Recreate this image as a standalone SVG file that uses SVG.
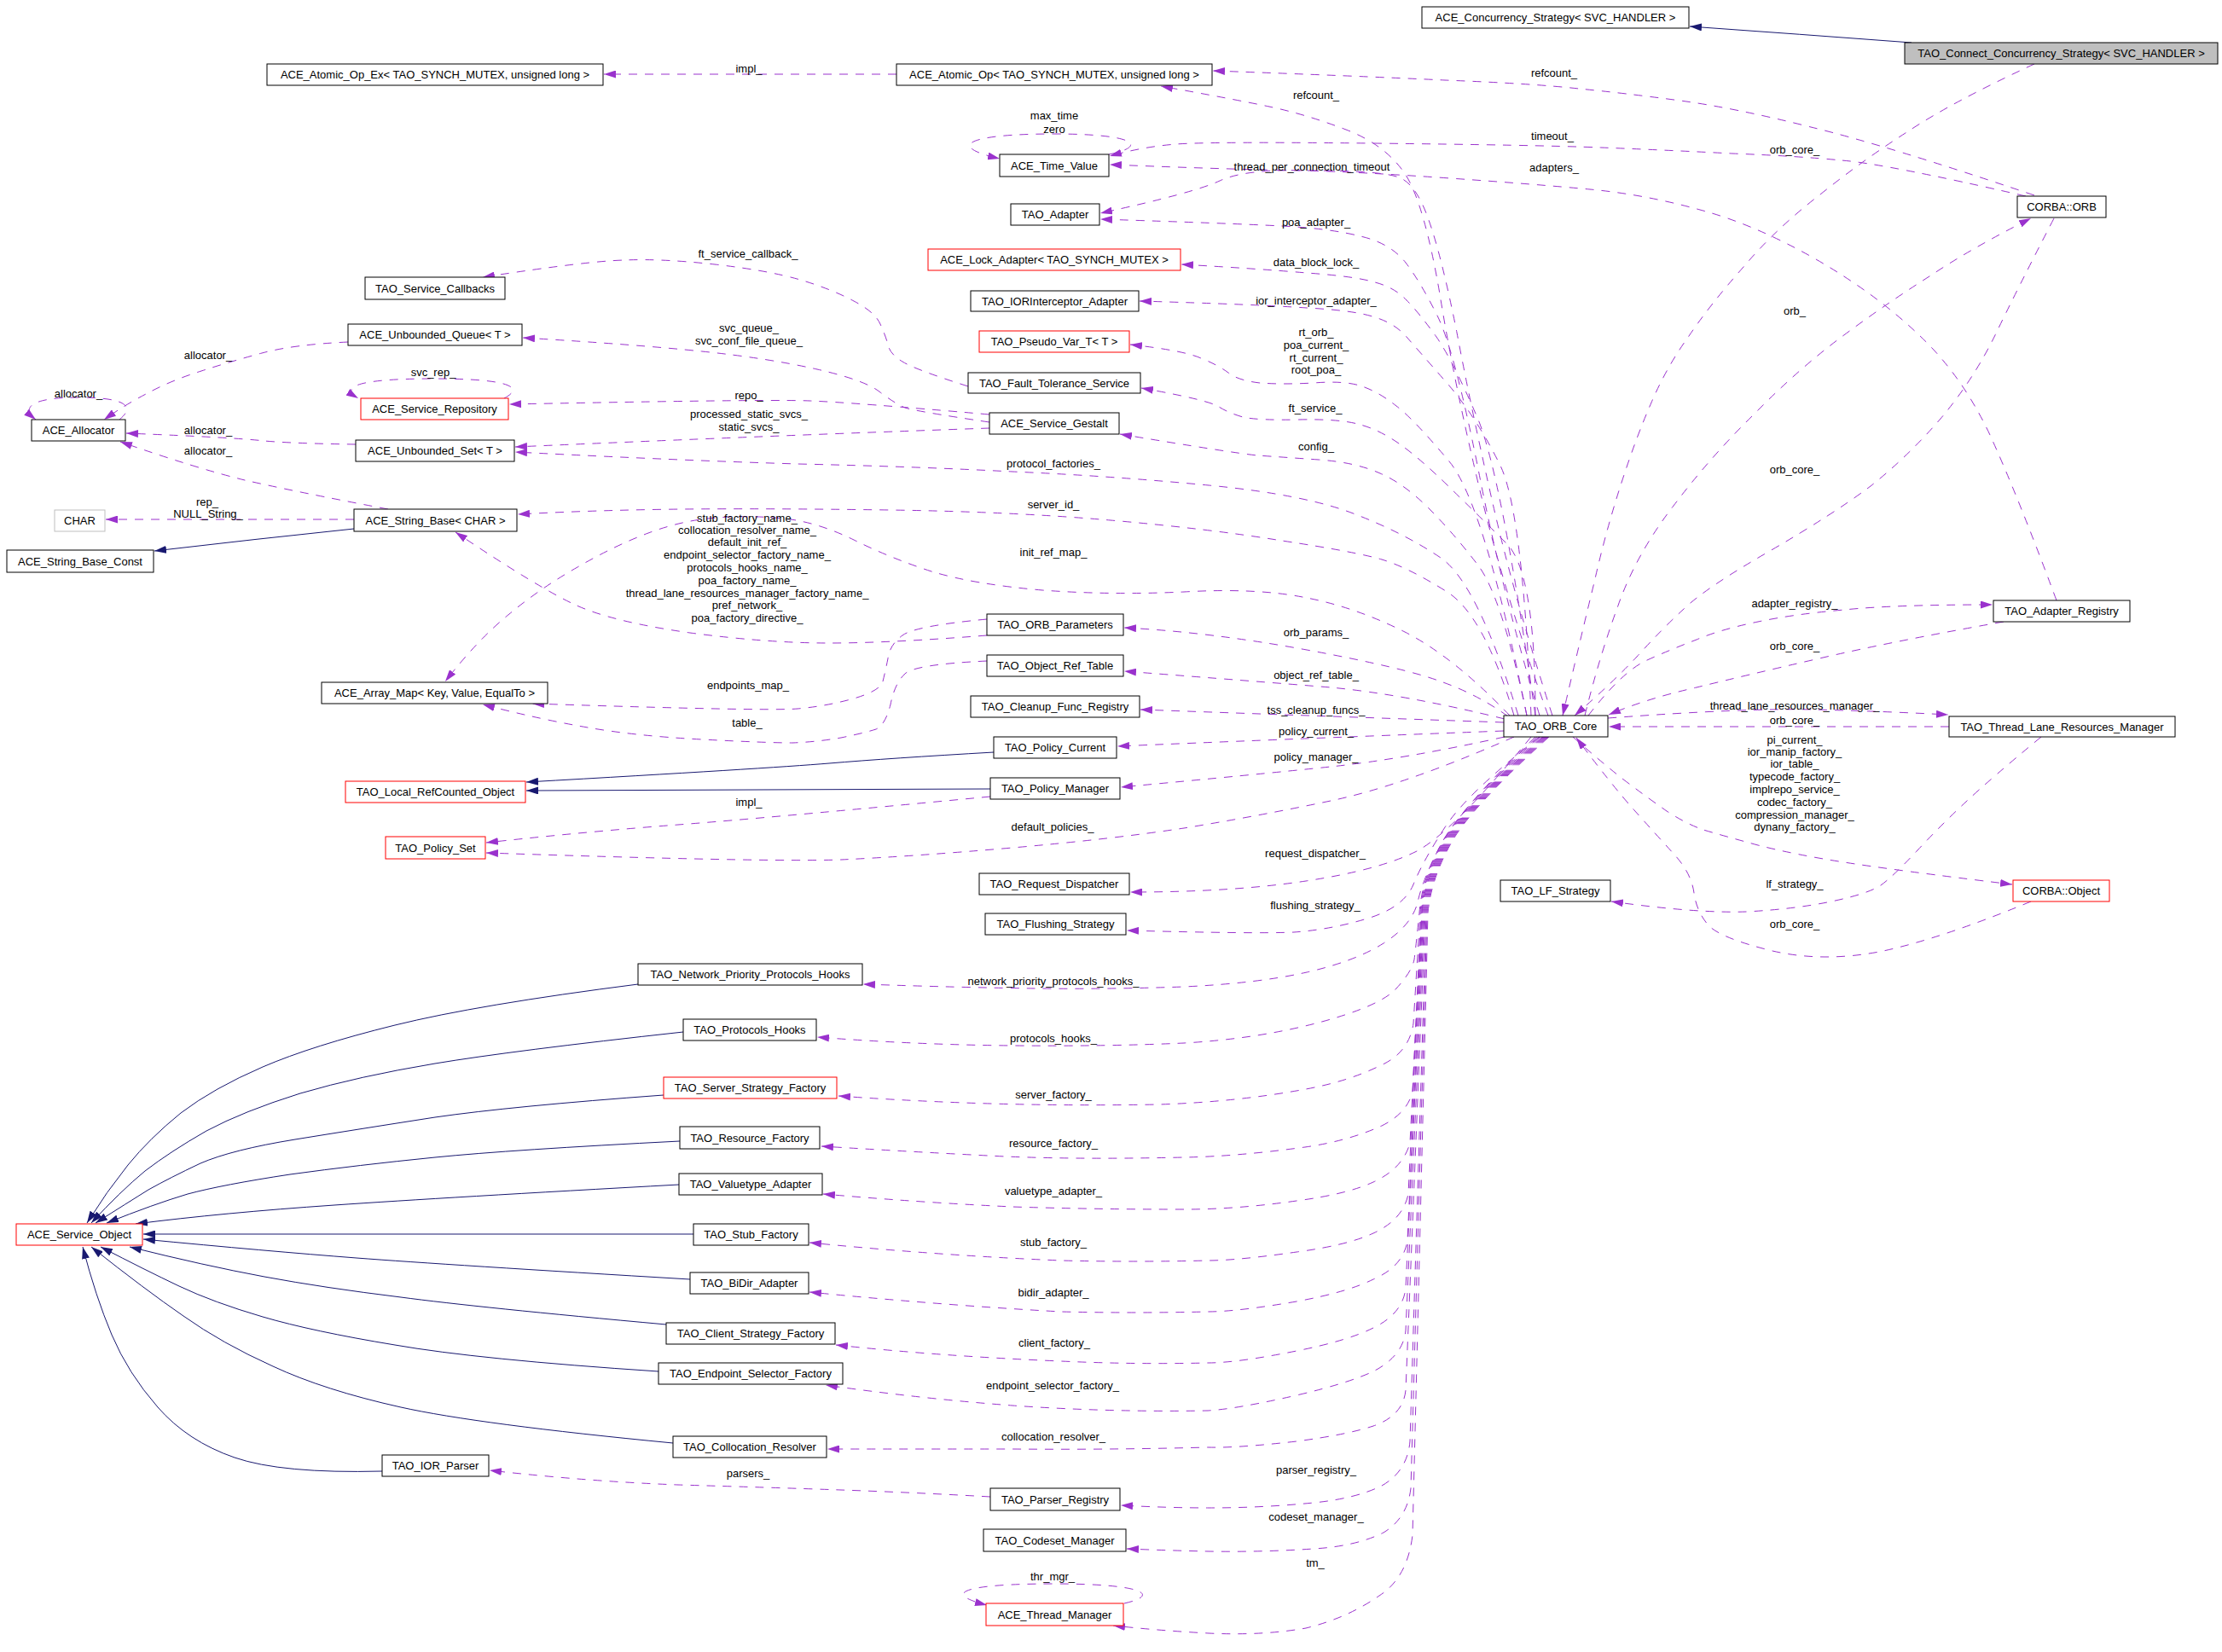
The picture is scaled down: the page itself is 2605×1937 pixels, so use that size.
<svg xmlns="http://www.w3.org/2000/svg" width="2605" height="1937" viewBox="0 0 2605 1937">
<style>
text{font-family:"Liberation Sans",Arial,sans-serif;font-size:13px;fill:#000}
.nd text{text-anchor:middle}
.nd rect{fill:#fff;stroke:#000;stroke-width:1}
.nd rect.r{stroke:#ff0000}
.nd rect.g{stroke:#bfbfbf}
.nd rect.s{fill:#bfbfbf}
.e{fill:none;stroke:#9a32cd;stroke-width:1;stroke-dasharray:10,9;marker-end:url(#pa)}
.i{fill:none;stroke:#191970;stroke-width:1;marker-end:url(#ia)}
.lb text{text-anchor:middle}
</style>
<defs>
<marker id="pa" markerUnits="userSpaceOnUse" markerWidth="14" markerHeight="9" refX="14" refY="4.5" orient="auto" viewBox="0 0 14 9"><path d="M0,0 L14,4.5 L0,9 z" fill="#9a32cd"/></marker>
<marker id="ia" markerUnits="userSpaceOnUse" markerWidth="14" markerHeight="9" refX="14" refY="4.5" orient="auto" viewBox="0 0 14 9"><path d="M0,0 L14,4.5 L0,9 z" fill="#191970"/></marker>
</defs>
<rect width="2605" height="1937" fill="#fff"/>
<g id="connectors">
<path class="i" d="M2241,50 Q2108,40 1981,31"/>
<path class="i" d="M415,620 Q300,632 181,646"/>
<path class="i" d="M1165,882 Q1043,889 972,895 Q900,901 617,917"/>
<path class="i" d="M1161,925 L617,927"/>
<path class="i" d="M748,1154 Q560,1178 463,1202 Q366,1226 308,1251 Q250,1276 212,1305 Q175,1335 150,1366 Q125,1397 102,1434"/>
<path class="i" d="M801,1210 Q600,1232 510,1247 Q420,1262 352,1282 Q285,1303 242,1326 Q200,1350 170,1373 Q141,1397 107,1434"/>
<path class="i" d="M778,1284 Q600,1297 510,1310 Q420,1324 346,1336 Q272,1348 235,1364 Q199,1381 174,1395 Q150,1410 112,1434"/>
<path class="i" d="M797,1338 Q600,1348 510,1357 Q420,1366 340,1377 Q261,1389 220,1400 Q180,1412 125,1434"/>
<path class="i" d="M796,1389 Q523,1404 392,1413 Q261,1422 159,1435"/>
<path class="i" d="M813,1447 L168,1447"/>
<path class="i" d="M809,1500 Q523,1483 418,1475 Q314,1467 168,1453"/>
<path class="i" d="M781,1553 Q560,1533 470,1521 Q380,1510 310,1497 Q240,1484 152,1462"/>
<path class="i" d="M772,1608 Q560,1594 463,1577 Q366,1561 308,1544 Q250,1527 210,1508 Q170,1489 118,1462"/>
<path class="i" d="M789,1692 Q560,1670 470,1650 Q380,1630 320,1602 Q260,1575 215,1543 Q170,1512 107,1462"/>
<path class="i" d="M448,1725 Q330,1728 275,1709 Q220,1690 185,1650 Q150,1610 131,1565 Q112,1520 97,1462"/>

<path class="e" d="M1051,87 L708,87"/>
<path class="e" d="M2385,229 Q2210,170 2123,149 Q2036,127 1970,118 Q1903,109 1851,104 Q1798,98 1694,94 Q1589,89 1422,83"/>
<path class="e" d="M1815,839 Q1765,700 1735,575 Q1705,450 1688,345 Q1670,240 1648,205 Q1625,170 1578,152 Q1531,134 1488,125 Q1445,116 1361,101"/>
<path class="e" d="M1300,181 C1345,172 1335,157 1236,157 C1130,157 1110,172 1172,186"/>
<path class="e" d="M2375,230 Q2210,192 2159,188 Q2108,183 2031,180 Q1954,176 1877,173 Q1800,170 1609,168 Q1417,166 1379,169 Q1340,172 1301,183"/>
<path class="e" d="M1820,839 Q1775,700 1750,590 Q1725,480 1708,390 Q1690,300 1675,258 Q1660,215 1640,208 Q1620,200 1535,200 Q1450,199 1301,193"/>
<path class="e" d="M2411,704 Q2365,580 2333,510 Q2300,440 2250,393 Q2200,345 2129,304 Q2057,263 1993,246 Q1928,228 1864,222 Q1800,216 1700,209 Q1600,202 1530,200 Q1460,198 1430,212 Q1400,226 1290,250"/>
<path class="e" d="M1805,839 Q1760,690 1733,550 Q1705,410 1685,370 Q1665,330 1648,308 Q1630,285 1595,277 Q1560,268 1503,265 Q1445,262 1290,257"/>
<path class="e" d="M1800,839 Q1761,560 1733,492 Q1704,424 1684,395 Q1663,366 1649,352 Q1635,337 1612,331 Q1589,324 1532,320 Q1474,315 1385,310"/>
<path class="e" d="M1795,839 Q1785,600 1759,546 Q1732,491 1698,451 Q1663,411 1649,395 Q1635,379 1612,372 Q1589,364 1532,361 Q1474,357 1336,353"/>
<path class="e" d="M1790,839 Q1740,590 1699,541 Q1657,491 1637,476 Q1617,460 1597,453 Q1577,446 1540,449 Q1503,451 1477,449 Q1451,446 1440,437 Q1428,428 1408,420 Q1388,411 1325,404"/>
<path class="e" d="M1800,839 Q1800,670 1766,637 Q1732,603 1698,570 Q1663,536 1640,520 Q1617,504 1595,498 Q1572,491 1523,492 Q1474,493 1457,489 Q1440,484 1429,477 Q1417,469 1338,455"/>
<path class="e" d="M1790,839 Q1761,700 1733,663 Q1704,625 1675,596 Q1646,567 1618,555 Q1589,542 1546,539 Q1503,536 1474,534 Q1445,531 1313,509"/>
<path class="e" d="M1780,839 Q1732,683 1689,654 Q1646,625 1589,603 Q1531,580 1417,569 Q1302,558 1187,553 Q1072,547 936,544 Q800,540 604,530"/>
<path class="e" d="M1775,839 Q1740,720 1695,693 Q1650,665 1620,656 Q1589,647 1503,634 Q1417,620 1302,610 Q1187,600 1044,598 Q900,596 800,597 Q700,598 607,603"/>
<path class="e" d="M1770,839 Q1704,770 1647,741 Q1589,712 1532,701 Q1474,689 1388,694 Q1302,698 1222,692 Q1141,685 1092,670 Q1043,654 1001,633 Q958,612 919,608 Q880,604 840,607 Q800,610 760,625 Q720,640 677,665 Q633,690 597,720 Q560,750 522,799"/>
<path class="e" d="M1157,745 Q1043,754 972,754 Q900,754 809,742 Q717,729 674,709 Q631,689 534,624"/>
<path class="e" d="M1157,726 Q1072,734 1058,745 Q1043,756 1041,772 Q1038,787 1035,799 Q1032,810 1001,819 Q969,828 935,831 Q900,834 624,825"/>
<path class="e" d="M1157,775 Q1072,779 1061,790 Q1049,801 1044,826 Q1038,850 1027,855 Q1015,859 986,865 Q957,870 929,871 Q900,871 823,867 Q746,863 689,853 Q631,843 566,826"/>
<path class="e" d="M1160,495 Q1072,482 1061,478 Q1049,473 1032,460 Q1015,446 958,433 Q900,420 823,412 Q746,404 613,396"/>
<path class="e" d="M1160,486 Q1000,472 950,470 Q900,468 597,474"/>
<path class="e" d="M1160,502 Q900,511 604,524"/>
<path class="e" d="M1135,453 Q1072,433 1058,424 Q1043,415 1041,404 Q1038,393 1032,380 Q1026,366 1001,353 Q975,339 938,328 Q900,317 838,310 Q775,303 732,305 Q689,306 566,325"/>
<path class="e" d="M408,401 Q344,404 307,414 Q270,424 236,435 Q201,446 175,460 Q149,473 122,492"/>
<path class="e" d="M140,492 C162,474 140,466 92,466 C42,466 22,476 42,492"/>
<path class="e" d="M417,521 Q344,520 310,517 Q276,513 148,508"/>
<path class="e" d="M455,597 Q344,576 287,563 Q230,549 141,518"/>
<path class="e" d="M415,609 L124,609"/>
<path class="e" d="M591,467 C614,455 602,444 508,444 C412,444 400,455 420,467"/>
<path class="e" d="M1161,1755 Q1072,1750 986,1747 Q900,1744 795,1741 Q689,1737 574,1724"/>
<path class="e" d="M1318,1880 C1362,1870 1340,1857 1236,1857 C1130,1857 1102,1868 1157,1882"/>

<path class="e" d="M1768,840 Q1732,814 1689,799 Q1646,783 1532,762 Q1417,741 1318,736"/>
<path class="e" d="M1764,843 Q1646,814 1560,806 Q1474,799 1318,787"/>
<path class="e" d="M1763,847 Q1474,837 1337,832"/>
<path class="e" d="M1763,857 Q1474,868 1310,875"/>
<path class="e" d="M1764,864 Q1646,890 1560,899 Q1474,908 1314,923"/>
<path class="e" d="M1161,934 Q900,959 795,967 Q689,975 570,988"/>
<path class="e" d="M1775,864 Q1646,921 1560,939 Q1474,957 1388,971 Q1302,984 1187,994 Q1072,1004 986,1008 Q900,1011 570,1000"/>
<path class="e" d="M1795,864 Q1704,975 1661,998 Q1617,1020 1531,1033 Q1445,1046 1325,1046"/>
<path class="e" d="M1805,864 Q1720,930 1694,970 Q1668,1010 1657,1037 Q1646,1064 1603,1077 Q1560,1090 1517,1093 Q1474,1095 1321,1091"/>
<path class="e" d="M1800,864 Q1712,948 1690,989 Q1668,1030 1662,1058 Q1655,1085 1622,1106 Q1589,1127 1532,1140 Q1474,1153 1388,1157 Q1302,1160 1216,1159 Q1130,1158 1012,1154"/>
<path class="e" d="M1802,864 Q1712,948 1690,989 Q1667,1030 1664,1070 Q1660,1110 1658,1125 Q1655,1140 1636,1160 Q1617,1180 1546,1199 Q1474,1218 1388,1223 Q1302,1227 1187,1226 Q1072,1225 958,1216"/>
<path class="e" d="M1804,864 Q1713,948 1691,989 Q1668,1030 1665,1070 L1657,1200 Q1652,1235 1617,1250 Q1580,1268 1531,1277 Q1450,1292 1359,1295 Q1240,1297 1130,1293 Q1050,1290 983,1285"/>
<path class="e" d="M1806,864 Q1714,948 1692,989 Q1669,1030 1666,1070 L1656,1280 Q1650,1305 1620,1320 Q1580,1338 1530,1345 Q1450,1356 1388,1357 Q1250,1360 1158,1355 Q1060,1350 963,1344"/>
<path class="e" d="M1808,864 Q1715,948 1693,989 Q1670,1030 1667,1070 L1653,1340 Q1645,1370 1610,1386 Q1580,1400 1520,1408 Q1450,1418 1388,1418 Q1280,1418 1187,1415 Q1080,1410 965,1400"/>
<path class="e" d="M1809,864 Q1716,948 1694,989 Q1671,1030 1667,1070 L1651,1400 Q1645,1430 1610,1446 Q1580,1460 1520,1468 Q1450,1478 1416,1478 Q1330,1480 1244,1478 Q1100,1472 949,1457"/>
<path class="e" d="M1810,864 Q1717,948 1695,989 Q1672,1030 1668,1070 L1650,1455 Q1645,1485 1610,1500 Q1580,1515 1520,1526 Q1450,1538 1416,1538 Q1330,1540 1244,1538 Q1100,1530 949,1515"/>
<path class="e" d="M1811,864 Q1718,948 1696,989 Q1673,1030 1669,1070 L1648,1510 Q1645,1540 1610,1557 Q1580,1572 1520,1584 Q1450,1598 1416,1598 Q1330,1600 1244,1596 Q1100,1590 980,1577"/>
<path class="e" d="M1812,864 Q1719,948 1697,989 Q1674,1030 1670,1070 L1648,1560 Q1645,1590 1610,1608 Q1580,1622 1520,1636 Q1450,1652 1416,1654 Q1300,1656 1187,1648 Q1080,1640 968,1624"/>
<path class="e" d="M1813,864 Q1720,948 1698,989 Q1675,1030 1671,1070 L1648,1630 Q1645,1660 1610,1672 Q1580,1682 1520,1690 Q1450,1698 1416,1697 Q1300,1700 1187,1699 Q1080,1699 970,1699"/>
<path class="e" d="M1814,864 Q1721,948 1699,989 Q1676,1030 1672,1070 L1653,1690 Q1650,1725 1620,1742 Q1590,1757 1540,1762 Q1480,1768 1417,1768 Q1370,1768 1314,1765"/>
<path class="e" d="M1815,864 Q1722,948 1700,989 Q1677,1030 1673,1070 L1654,1745 Q1650,1780 1622,1797 Q1590,1813 1540,1816 Q1480,1820 1417,1819 Q1370,1818 1321,1816"/>
<path class="e" d="M1816,864 Q1723,948 1701,989 Q1678,1030 1674,1070 L1656,1800 Q1650,1850 1617,1871 Q1580,1897 1531,1909 Q1480,1918 1417,1915 Q1360,1912 1305,1906"/>

<path class="e" d="M2385,75 Q2288,120 2237,154 Q2185,187 2134,228 Q2082,268 2044,313 Q2005,357 1980,394 Q1954,430 1936,472 Q1918,513 1900,569 Q1882,625 1869,683 Q1855,740 1832,839"/>
<path class="e" d="M1858,839 Q1875,770 1897,710 Q1918,650 1962,593 Q2005,536 2057,485 Q2108,433 2159,395 Q2210,357 2262,324 Q2313,290 2381,256"/>
<path class="e" d="M2408,256 Q2365,339 2339,393 Q2313,446 2275,491 Q2236,536 2193,570 Q2149,603 2075,646 Q2000,689 1974,714 Q1948,738 1919,770 Q1890,801 1846,839"/>
<path class="e" d="M1862,839 Q1902,787 1931,774 Q1960,761 1989,750 Q2017,738 2061,729 Q2104,720 2162,715 Q2219,709 2336,709"/>
<path class="e" d="M2349,729 Q2219,752 2133,772 Q2046,792 1989,806 Q1931,819 1886,838"/>
<path class="e" d="M1885,842 Q2046,830 2127,832 Q2208,834 2284,838"/>
<path class="e" d="M2285,852 L1886,852"/>
<path class="e" d="M1844,864 Q1873,890 1902,913 Q1931,935 1954,951 Q1977,966 1997,973 Q2017,979 2061,991 Q2104,1002 2162,1011 Q2219,1020 2359,1037"/>
<path class="e" d="M2393,864 Q2335,912 2306,939 Q2277,966 2248,997 Q2219,1028 2205,1038 Q2190,1048 2147,1057 Q2104,1066 2047,1069 Q1989,1071 1889,1057"/>
<path class="e" d="M2381,1057 Q2277,1100 2208,1115 Q2139,1129 2078,1115 Q2017,1100 2003,1085 Q1989,1069 1986,1047 Q1983,1024 1963,1002 Q1942,979 1916,950 Q1890,921 1848,865"/>

<g class="lb">
<text x="878" y="84.5">impl_</text>
<text x="1822" y="89.5">refcount_</text>
<text x="1543" y="115.5">refcount_</text>
<text x="1236" y="139.5">max_time</text>
<text x="1236" y="155.5">zero</text>
<text x="1820" y="163.5">timeout_</text>
<text x="2104" y="179.5">orb_core_</text>
<text x="1538" y="199.5">thread_per_connection_timeout</text>
<text x="1822" y="200.5">adapters_</text>
<text x="1543" y="264.5">poa_adapter_</text>
<text x="877" y="301.5">ft_service_callback_</text>
<text x="1543" y="311.5">data_block_lock_</text>
<text x="1543" y="356.5">ior_interceptor_adapter_</text>
<text x="2104" y="368.5">orb_</text>
<text x="878" y="388.5">svc_queue_</text>
<text x="878" y="403.5">svc_conf_file_queue_</text>
<text x="1543" y="393.5">rt_orb_</text>
<text x="1543" y="408.5">poa_current_</text>
<text x="1543" y="423.5">rt_current_</text>
<text x="1543" y="437.5">root_poa_</text>
<text x="244" y="421">allocator_</text>
<text x="508" y="440.5">svc_rep_</text>
<text x="92" y="465.5">allocator_</text>
<text x="878" y="467.5">repo_</text>
<text x="1542" y="482.5">ft_service_</text>
<text x="878" y="489.5">processed_static_svcs_</text>
<text x="878" y="504.5">static_svcs_</text>
<text x="244" y="508.5">allocator_</text>
<text x="1543" y="527.5">config_</text>
<text x="244" y="533">allocator_</text>
<text x="1235" y="547.5">protocol_factories_</text>
<text x="2104" y="554.5">orb_core_</text>
<text x="243" y="592.5">rep_</text>
<text x="244" y="606.5">NULL_String_</text>
<text x="1235" y="596">server_id_</text>
<text x="876" y="611.5">stub_factory_name_</text>
<text x="876" y="625.5">collocation_resolver_name_</text>
<text x="876" y="639.5">default_init_ref_</text>
<text x="876" y="654.5">endpoint_selector_factory_name_</text>
<text x="876" y="669.5">protocols_hooks_name_</text>
<text x="876" y="684.5">poa_factory_name_</text>
<text x="876" y="699.5">thread_lane_resources_manager_factory_name_</text>
<text x="876" y="713.5">pref_network_</text>
<text x="876" y="728.5">poa_factory_directive_</text>
<text x="1235" y="651.5">init_ref_map_</text>
<text x="2104" y="711.5">adapter_registry_</text>
<text x="1543" y="745.5">orb_params_</text>
<text x="2104" y="761.5">orb_core_</text>
<text x="1543" y="796">object_ref_table_</text>
<text x="877" y="807.5">endpoints_map_</text>
<text x="2104" y="831.5">thread_lane_resources_manager_</text>
<text x="1543" y="836.5">tss_cleanup_funcs_</text>
<text x="2104" y="849">orb_core_</text>
<text x="876" y="851.5">table_</text>
<text x="1543" y="861.5">policy_current_</text>
<text x="2104" y="871.5">pi_current_</text>
<text x="2104" y="885.5">ior_manip_factory_</text>
<text x="2104" y="900">ior_table_</text>
<text x="2104" y="915">typecode_factory_</text>
<text x="2104" y="929.5">implrepo_service_</text>
<text x="2104" y="944.5">codec_factory_</text>
<text x="2104" y="959.5">compression_manager_</text>
<text x="2104" y="973.5">dynany_factory_</text>
<text x="1543" y="892">policy_manager_</text>
<text x="878" y="944.5">impl_</text>
<text x="1234" y="973.5">default_policies_</text>
<text x="1542" y="1005">request_dispatcher_</text>
<text x="2104" y="1040.5">lf_strategy_</text>
<text x="1542" y="1065.5">flushing_strategy_</text>
<text x="2104" y="1087.5">orb_core_</text>
<text x="1235" y="1155">network_priority_protocols_hooks_</text>
<text x="1235" y="1221.5">protocols_hooks_</text>
<text x="1235" y="1288">server_factory_</text>
<text x="1235" y="1345">resource_factory_</text>
<text x="1235" y="1400.5">valuetype_adapter_</text>
<text x="1235" y="1461">stub_factory_</text>
<text x="1235" y="1520">bidir_adapter_</text>
<text x="1236" y="1579">client_factory_</text>
<text x="1234" y="1629">endpoint_selector_factory_</text>
<text x="1235" y="1688.5">collocation_resolver_</text>
<text x="877" y="1731.5">parsers_</text>
<text x="1543" y="1727.5">parser_registry_</text>
<text x="1543" y="1783">codeset_manager_</text>
<text x="1542" y="1836.5">tm_</text>
<text x="1234" y="1852.5">thr_mgr_</text>
</g>
</g>

<g id="n_ACE_Concurrency_Strategy" class="nd"><rect x="1667" y="8" width="313" height="25"/><text x="1823.5" y="25">ACE_Concurrency_Strategy&lt; SVC_HANDLER &gt;</text></g>
<g id="n_TAO_Connect_Concurrency_Strategy" class="nd"><rect class="s" x="2233" y="50" width="367" height="25"/><text x="2416.5" y="67">TAO_Connect_Concurrency_Strategy&lt; SVC_HANDLER &gt;</text></g>
<g id="n_ACE_Atomic_Op_Ex" class="nd"><rect x="313" y="75" width="394" height="25"/><text x="510" y="92">ACE_Atomic_Op_Ex&lt; TAO_SYNCH_MUTEX, unsigned long &gt;</text></g>
<g id="n_ACE_Atomic_Op" class="nd"><rect x="1051" y="75" width="370" height="25"/><text x="1236" y="92">ACE_Atomic_Op&lt; TAO_SYNCH_MUTEX, unsigned long &gt;</text></g>
<g id="n_ACE_Time_Value" class="nd"><rect x="1172" y="181" width="128" height="26"/><text x="1236" y="198.5">ACE_Time_Value</text></g>
<g id="n_TAO_Adapter" class="nd"><rect x="1185" y="239" width="104" height="25"/><text x="1237" y="256">TAO_Adapter</text></g>
<g id="n_CORBA_ORB" class="nd"><rect x="2365" y="230" width="104" height="25"/><text x="2417" y="247">CORBA::ORB</text></g>
<g id="n_ACE_Lock_Adapter" class="nd"><rect class="r" x="1088" y="292" width="296" height="25"/><text x="1236" y="309">ACE_Lock_Adapter&lt; TAO_SYNCH_MUTEX &gt;</text></g>
<g id="n_TAO_Service_Callbacks" class="nd"><rect x="428" y="325" width="164" height="26"/><text x="510" y="342.5">TAO_Service_Callbacks</text></g>
<g id="n_TAO_IORInterceptor_Adapter" class="nd"><rect x="1138" y="341" width="197" height="24"/><text x="1236.5" y="357.5">TAO_IORInterceptor_Adapter</text></g>
<g id="n_ACE_Unbounded_Queue" class="nd"><rect x="408" y="380" width="204" height="25"/><text x="510" y="397">ACE_Unbounded_Queue&lt; T &gt;</text></g>
<g id="n_TAO_Pseudo_Var_T" class="nd"><rect class="r" x="1148" y="388" width="176" height="25"/><text x="1236" y="405">TAO_Pseudo_Var_T&lt; T &gt;</text></g>
<g id="n_TAO_Fault_Tolerance_Service" class="nd"><rect x="1135" y="437" width="202" height="24"/><text x="1236" y="453.5">TAO_Fault_Tolerance_Service</text></g>
<g id="n_ACE_Service_Repository" class="nd"><rect class="r" x="423" y="467" width="173" height="25"/><text x="509.5" y="484">ACE_Service_Repository</text></g>
<g id="n_ACE_Service_Gestalt" class="nd"><rect x="1160" y="484" width="152" height="25"/><text x="1236" y="501">ACE_Service_Gestalt</text></g>
<g id="n_ACE_Allocator" class="nd"><rect x="37" y="492" width="110" height="25"/><text x="92" y="509">ACE_Allocator</text></g>
<g id="n_ACE_Unbounded_Set" class="nd"><rect x="417" y="516" width="186" height="25"/><text x="510" y="533">ACE_Unbounded_Set&lt; T &gt;</text></g>
<g id="n_CHAR" class="nd"><rect class="g" x="64" y="598" width="59" height="25"/><text x="93.5" y="615">CHAR</text></g>
<g id="n_ACE_String_Base" class="nd"><rect x="415" y="597" width="191" height="26"/><text x="510.5" y="614.5">ACE_String_Base&lt; CHAR &gt;</text></g>
<g id="n_ACE_String_Base_Const" class="nd"><rect x="8" y="645" width="172" height="26"/><text x="94" y="662.5">ACE_String_Base_Const</text></g>
<g id="n_TAO_Adapter_Registry" class="nd"><rect x="2337" y="704" width="160" height="25"/><text x="2417" y="721">TAO_Adapter_Registry</text></g>
<g id="n_TAO_ORB_Parameters" class="nd"><rect x="1157" y="720" width="160" height="25"/><text x="1237" y="737">TAO_ORB_Parameters</text></g>
<g id="n_TAO_Object_Ref_Table" class="nd"><rect x="1157" y="768" width="160" height="25"/><text x="1237" y="785">TAO_Object_Ref_Table</text></g>
<g id="n_ACE_Array_Map" class="nd"><rect x="377" y="800" width="265" height="25"/><text x="509.5" y="817">ACE_Array_Map&lt; Key, Value, EqualTo &gt;</text></g>
<g id="n_TAO_Cleanup_Func_Registry" class="nd"><rect x="1138" y="816" width="198" height="25"/><text x="1237" y="833">TAO_Cleanup_Func_Registry</text></g>
<g id="n_TAO_ORB_Core" class="nd"><rect x="1763" y="839" width="122" height="25"/><text x="1824" y="856">TAO_ORB_Core</text></g>
<g id="n_TAO_Thread_Lane_Resources_Manager" class="nd"><rect x="2285" y="840" width="265" height="24"/><text x="2417.5" y="856.5">TAO_Thread_Lane_Resources_Manager</text></g>
<g id="n_TAO_Policy_Current" class="nd"><rect x="1165" y="864" width="144" height="25"/><text x="1237" y="881">TAO_Policy_Current</text></g>
<g id="n_TAO_Local_RefCounted_Object" class="nd"><rect class="r" x="405" y="916" width="211" height="25"/><text x="510.5" y="933">TAO_Local_RefCounted_Object</text></g>
<g id="n_TAO_Policy_Manager" class="nd"><rect x="1161" y="912" width="152" height="25"/><text x="1237" y="929">TAO_Policy_Manager</text></g>
<g id="n_TAO_Policy_Set" class="nd"><rect class="r" x="452" y="981" width="117" height="26"/><text x="510.5" y="998.5">TAO_Policy_Set</text></g>
<g id="n_TAO_Request_Dispatcher" class="nd"><rect x="1148" y="1024" width="176" height="25"/><text x="1236" y="1041">TAO_Request_Dispatcher</text></g>
<g id="n_TAO_LF_Strategy" class="nd"><rect x="1759" y="1032" width="129" height="25"/><text x="1823.5" y="1049">TAO_LF_Strategy</text></g>
<g id="n_CORBA_Object" class="nd"><rect class="r" x="2360" y="1032" width="113" height="25"/><text x="2416.5" y="1049">CORBA::Object</text></g>
<g id="n_TAO_Flushing_Strategy" class="nd"><rect x="1155" y="1071" width="165" height="25"/><text x="1237.5" y="1088">TAO_Flushing_Strategy</text></g>
<g id="n_TAO_Network_Priority_Protocols_Hooks" class="nd"><rect x="748" y="1130" width="263" height="25"/><text x="879.5" y="1147">TAO_Network_Priority_Protocols_Hooks</text></g>
<g id="n_TAO_Protocols_Hooks" class="nd"><rect x="801" y="1195" width="156" height="25"/><text x="879" y="1212">TAO_Protocols_Hooks</text></g>
<g id="n_TAO_Server_Strategy_Factory" class="nd"><rect class="r" x="778" y="1263" width="203" height="25"/><text x="879.5" y="1280">TAO_Server_Strategy_Factory</text></g>
<g id="n_TAO_Resource_Factory" class="nd"><rect x="797" y="1321" width="164" height="26"/><text x="879" y="1338.5">TAO_Resource_Factory</text></g>
<g id="n_TAO_Valuetype_Adapter" class="nd"><rect x="796" y="1376" width="168" height="25"/><text x="880" y="1393">TAO_Valuetype_Adapter</text></g>
<g id="n_ACE_Service_Object" class="nd"><rect class="r" x="19" y="1435" width="148" height="25"/><text x="93" y="1452">ACE_Service_Object</text></g>
<g id="n_TAO_Stub_Factory" class="nd"><rect x="813" y="1435" width="135" height="25"/><text x="880.5" y="1452">TAO_Stub_Factory</text></g>
<g id="n_TAO_BiDir_Adapter" class="nd"><rect x="809" y="1492" width="139" height="25"/><text x="878.5" y="1509">TAO_BiDir_Adapter</text></g>
<g id="n_TAO_Client_Strategy_Factory" class="nd"><rect x="781" y="1551" width="198" height="25"/><text x="880" y="1568">TAO_Client_Strategy_Factory</text></g>
<g id="n_TAO_Endpoint_Selector_Factory" class="nd"><rect x="772" y="1598" width="216" height="25"/><text x="880" y="1615">TAO_Endpoint_Selector_Factory</text></g>
<g id="n_TAO_Collocation_Resolver" class="nd"><rect x="789" y="1684" width="180" height="25"/><text x="879" y="1701">TAO_Collocation_Resolver</text></g>
<g id="n_TAO_IOR_Parser" class="nd"><rect x="448" y="1706" width="125" height="25"/><text x="510.5" y="1723">TAO_IOR_Parser</text></g>
<g id="n_TAO_Parser_Registry" class="nd"><rect x="1161" y="1745" width="152" height="26"/><text x="1237" y="1762.5">TAO_Parser_Registry</text></g>
<g id="n_TAO_Codeset_Manager" class="nd"><rect x="1153" y="1793" width="167" height="26"/><text x="1236.5" y="1810.5">TAO_Codeset_Manager</text></g>
<g id="n_ACE_Thread_Manager" class="nd"><rect class="r" x="1156" y="1880" width="161" height="26"/><text x="1236.5" y="1897.5">ACE_Thread_Manager</text></g>
</svg>
